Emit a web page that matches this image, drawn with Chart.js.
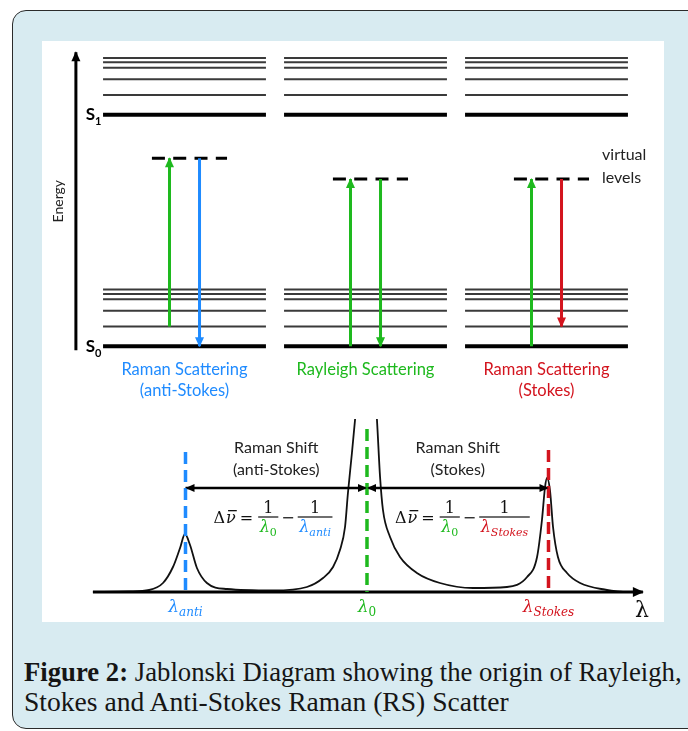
<!DOCTYPE html>
<html>
<head>
<meta charset="utf-8">
<script src="https://cdn.jsdelivr.net/npm/chart.js@4.4.1/dist/chart.umd.min.js"></script>
<style>
  html, body { margin: 0; padding: 0; background: #fff; }
  body { width: 688px; height: 731px; position: relative; overflow: hidden; }
  #frame { position: absolute; left: 12px; top: 10px; width: 730px; height: 719px; background: #d8ebf1;
           border: 1.5px solid #2b2b2b; border-radius: 14px; box-sizing: border-box; }
  #panel { position: absolute; left: 42px; top: 41px; width: 622px; height: 581px; background: #fff; }
  #levels { position: absolute; left: 42px; top: 41px; }
  #spectrum { position: absolute; left: 42px; top: 419px; }
  .cap { position: absolute; left: 24px; font-family: "Liberation Serif", serif; font-size: 27px;
         line-height: 27px; color: #151515; white-space: nowrap; transform-origin: 0 0; }
  #cap1 { top: 659px; }
  #cap2 { top: 689px; }
</style>
</head>
<body>
<div id="frame"></div>
<div id="panel"></div>
<canvas id="levels" width="622" height="378"></canvas>
<canvas id="spectrum" width="622" height="203"></canvas>
<div class="cap" id="cap1"><b>Figure 2:</b> Jablonski Diagram showing the origin of Rayleigh,</div>
<div class="cap" id="cap2">Stokes and Anti-Stokes Raman (RS) Scatter</div>
<script>
// Jablonski part: columns and energies (S0 = 0, S1 = 10)
const columns = [0, 1, 2];
const columnTitles = [["Raman Scattering", "(anti-Stokes)"], ["Rayleigh Scattering"], ["Raman Scattering", "(Stokes)"]];
const stateNames = ["S", "S"];
const stateSubs = ["0", "1"];
const stateEnergies = [0, 10];
const vibLevels = [0, 0.85, 1.53, 2.03, 2.26, 2.45];
const virtualLevels = [8.12, 7.22, 7.22];
const excitationFrom = [0.85, 0, 0];
const emissionTo = [0, 0, 0.85];
const energyAxis = [-0.17, 12.7];

// spectrum part: wavelength in units of the Raman shift, lambda0 = 0
const markPos = [-1, 0, 1];
const markTops = [1.40, 1.63, 1.42];
const markSubs = ["anti", "0", "Stokes"];
const shiftLevel = 1.04;
const shiftTitles = [["Raman Shift", "(anti-Stokes)"], ["Raman Shift", "(Stokes)"]];
const axisRange = [-1.51, 1.52];
const specX = [-1.51, -1.31, -1.20, -1.124, -1.069, -1.030, -1.003, -0.975, -0.937, -0.882, -0.771, -0.518, -0.331, -0.242, -0.187, -0.149, -0.121, -0.105, -0.083, -0.066, 0.0, 0.055, 0.072, 0.088, 0.127, 0.182, 0.275, 0.402, 0.584, 0.771, 0.882, 0.937, 0.964, 0.981, 0.992, 1.008, 1.025, 1.052, 1.102, 1.174, 1.322, 1.41];
const specY = [0, 0.005, 0.02, 0.09, 0.25, 0.44, 0.58, 0.47, 0.24, 0.09, 0.03, 0.015, 0.05, 0.14, 0.25, 0.42, 0.65, 0.99, 1.39, 1.72, 3.2, 1.72, 1.15, 0.82, 0.55, 0.35, 0.19, 0.09, 0.04, 0.05, 0.15, 0.35, 0.72, 1.05, 1.14, 1.02, 0.65, 0.35, 0.19, 0.09, 0.02, 0];

const BLUE = "#1f8bff", GREEN = "#1eb91e", RED = "#d3141e";
const colColors = [BLUE, GREEN, RED];
const SANS = "Lato, 'Open Sans', sans-serif";
const SERIF = "'DejaVu Serif', serif";

// arrow heads at line ends
const arrowHeads = {
    id: "arrowHeads",
    afterDatasetsDraw(chart) {
        const ctx = chart.ctx;
        chart.data.datasets.forEach((ds, i) => {
            if (!ds.arrow) return;
            const pts = chart.getDatasetMeta(i).data;
            const ends = [];
            if (ds.arrow.end) ends.push([pts[pts.length - 2], pts[pts.length - 1]]);
            if (ds.arrow.start) ends.push([pts[1], pts[0]]);
            ends.forEach(([a, b]) => {
                const ang = Math.atan2(b.y - a.y, b.x - a.x);
                const L = ds.arrow.len, W = ds.arrow.wid, t = ds.arrow.tip || 0;
                ctx.save();
                ctx.translate(b.x, b.y);
                ctx.rotate(ang);
                ctx.fillStyle = ds.borderColor;
                ctx.beginPath();
                ctx.moveTo(t, 0);
                ctx.lineTo(t - L, -W / 2);
                ctx.lineTo(t - L, W / 2);
                ctx.closePath();
                ctx.fill();
                ctx.restore();
            });
        });
    }
};

function seg(x1, y1, x2, y2, color, width, extra) {
    return Object.assign({
        data: [{ x: x1, y: y1 }, { x: x2, y: y2 }],
        borderColor: color, borderWidth: width, pointRadius: 0, fill: false
    }, extra || {});
}

// ---------- top chart ----------
const half = 0.45;
const levelSets = [];
const arrowSets = [];
columns.forEach(c => {
    stateEnergies.forEach(base => {
        vibLevels.forEach((v, k) => {
            levelSets.push(seg(c - half, base + v, c + half, base + v, k === 0 ? "#000" : "#3a3a3a", k === 0 ? 4 : 2));
        });
    });
    levelSets.push(seg(c - 0.18, virtualLevels[c], c + 0.235, virtualLevels[c], "#000", 3, { borderDash: [13, 8.3] }));
    arrowSets.push(seg(c - 0.083, excitationFrom[c], c - 0.083, virtualLevels[c], GREEN, 3, { arrow: { end: true, len: 10, wid: 9, tip: 1 } }));
    arrowSets.push(seg(c + 0.083, virtualLevels[c], c + 0.083, emissionTo[c], colColors[c], 3, { arrow: { end: true, len: 10, wid: 9, tip: 1 } }));
});
arrowSets.push(seg(-0.6, energyAxis[0], -0.6, energyAxis[1], "#000", 3, { arrow: { end: true, len: 10, wid: 9, tip: 1 } }));

const levelText = {
    id: "levelText",
    afterDraw(chart) {
        const { ctx, scales: { x, y } } = chart;
        ctx.save();
        // column titles
        ctx.textAlign = "center";
        ctx.textBaseline = "middle";
        ctx.font = "16.5px " + SANS;
        columns.forEach(c => {
            ctx.fillStyle = colColors[c];
            columnTitles[c].forEach((t, k) => {
                ctx.fillText(t, x.getPixelForValue(c), y.getPixelForValue(stateEnergies[0]) + 23 + k * 21);
            });
        });
        // state labels
        const sx = x.getPixelForValue(-half) - 8;
        ctx.fillStyle = "#000";
        stateEnergies.forEach((e, k) => {
            const py = y.getPixelForValue(e);
            ctx.font = "bold 17px " + SANS;
            ctx.textAlign = "right";
            ctx.fillText(stateNames[k], sx, py);
            ctx.font = "bold 11px " + SANS;
            ctx.textAlign = "left";
            ctx.fillText(stateSubs[k], sx, py + 7);
        });
        // virtual levels note
        ctx.font = "16px " + SANS;
        ctx.fillStyle = "#222";
        ctx.textAlign = "left";
        const vx = x.getPixelForValue(2.235) + 13;
        const vy = y.getPixelForValue(virtualLevels[2]);
        ctx.fillText("virtual", vx, vy - 24);
        ctx.fillText("levels", vx, vy - 1);
        // Energy
        ctx.translate(x.getPixelForValue(-0.6) - 17, (y.getPixelForValue(energyAxis[0]) + y.getPixelForValue(energyAxis[1])) / 2);
        ctx.rotate(-Math.PI / 2);
        ctx.textAlign = "center";
        ctx.font = "14px " + SANS;
        ctx.fillText("Energy", 0, 0);
        ctx.restore();
    }
};

new Chart(document.getElementById("levels"), {
    type: "line",
    data: { datasets: [...arrowSets, ...levelSets] },
    options: {
        responsive: false, animation: false, events: [], devicePixelRatio: 1,
        layout: { padding: 0 },
        plugins: { legend: { display: false }, tooltip: { enabled: false } },
        scales: {
            x: { type: "linear", display: false, min: -0.7873, max: 2.6492 },
            y: { type: "linear", display: false, min: -3.139, max: 13.182 }
        }
    },
    plugins: [arrowHeads, levelText]
});

// ---------- bottom chart ----------
const MATH = 16;

function lambdaFonts(sub, size) {
    return ["italic " + size + "px " + SERIF, (sub === "0" ? "" : "italic ") + Math.round(size * 0.68) + "px " + SERIF];
}

function measureLambda(ctx, sub, size) {
    const [big, small] = lambdaFonts(sub, size);
    ctx.font = big;
    const w1 = ctx.measureText("λ").width;
    ctx.font = small;
    return w1 + ctx.measureText(sub).width;
}

function drawLambda(ctx, cx, base, sub, color, size) {
    const [big, small] = lambdaFonts(sub, size);
    const w = measureLambda(ctx, sub, size);
    const x0 = cx - w / 2;
    ctx.fillStyle = color;
    ctx.textAlign = "left";
    ctx.font = big;
    const w1 = ctx.measureText("λ").width;
    ctx.fillText("λ", x0, base);
    ctx.font = small;
    ctx.fillText(sub, x0 + w1, base + size * 0.25);
}

function drawFrac(ctx, x0, bar, sub, color) {
    const w = measureLambda(ctx, sub, MATH) + 3;
    ctx.fillStyle = "#111";
    ctx.fillRect(x0, bar - 0.6, w, 1.2);
    ctx.font = MATH + "px " + SERIF;
    ctx.textAlign = "center";
    ctx.fillText("1", x0 + w / 2, bar - 4);
    drawLambda(ctx, x0 + w / 2, bar + 15, sub, color, MATH);
    return w;
}

function drawFormula(ctx, x0, bar, sub, color) {
    let cx = x0;
    ctx.fillStyle = "#111";
    ctx.textAlign = "left";
    ctx.font = MATH + "px " + SERIF;
    ctx.fillText("Δ", cx, bar + 6);
    cx += ctx.measureText("Δ").width + 1;
    ctx.font = "italic " + MATH + "px " + SERIF;
    const nw = ctx.measureText("ν").width;
    ctx.fillText("ν", cx, bar + 6);
    ctx.fillRect(cx + 2, bar - 7, nw - 1, 1.3);
    cx += nw + 4;
    ctx.font = MATH + "px " + SERIF;
    ctx.fillText("=", cx, bar + 6);
    cx += ctx.measureText("=").width + 5;
    cx += drawFrac(ctx, cx, bar, "0", GREEN) + 3;
    ctx.fillStyle = "#111";
    ctx.textAlign = "left";
    ctx.font = MATH + "px " + SERIF;
    ctx.fillText("−", cx, bar + 6);
    cx += ctx.measureText("−").width + 3;
    drawFrac(ctx, cx, bar, sub, color);
}

const specText = {
    id: "specText",
    afterDraw(chart) {
        const { ctx, scales: { x, y } } = chart;
        ctx.save();
        const base = y.getPixelForValue(0);
        const ay = y.getPixelForValue(shiftLevel);
        // shift titles
        ctx.font = "16px " + SANS;
        ctx.fillStyle = "#222";
        ctx.textAlign = "center";
        ctx.textBaseline = "middle";
        shiftTitles.forEach((lines, k) => {
            const mx = x.getPixelForValue((markPos[k] + markPos[k + 1]) / 2);
            lines.forEach((t, j) => ctx.fillText(t, mx, ay - 40 + j * 22));
        });
        // formulas
        ctx.textBaseline = "alphabetic";
        drawFormula(ctx, x.getPixelForValue(markPos[0]) + 28, ay + 29, markSubs[0], colColors[0]);
        drawFormula(ctx, x.getPixelForValue(markPos[1]) + 28, ay + 29, markSubs[2], colColors[2]);
        // mark labels
        markPos.forEach((m, k) => {
            drawLambda(ctx, x.getPixelForValue(m), base + 20, markSubs[k], colColors[k], 17);
        });
        // axis label
        ctx.fillStyle = "#111";
        ctx.font = "22px " + SERIF;
        ctx.textAlign = "center";
        ctx.fillText("λ", x.getPixelForValue(axisRange[1]) - 1, base + 25);
        ctx.restore();
    }
};

const specSets = [];
markPos.forEach((m, k) => {
    specSets.push(seg(m, markTops[k], m, 0, colColors[k], 3.5, { borderDash: [12, 6] }));
});
specSets.push(seg(markPos[0], shiftLevel, markPos[1], shiftLevel, "#000", 2.5, { arrow: { start: true, end: true, len: 9, wid: 8, tip: 0 } }));
specSets.push(seg(markPos[1], shiftLevel, markPos[2], shiftLevel, "#000", 2.5, { arrow: { start: true, end: true, len: 9, wid: 8, tip: 0 } }));
specSets.push(seg(axisRange[0], 0, axisRange[1], 0, "#000", 3, { arrow: { end: true, len: 11, wid: 10, tip: 1 } }));
specSets.push({
    data: specX.map((v, i) => ({ x: v, y: specY[i] })),
    borderColor: "#111", borderWidth: 1.8, pointRadius: 0, fill: false,
    cubicInterpolationMode: "monotone"
});

new Chart(document.getElementById("spectrum"), {
    type: "line",
    data: { datasets: specSets },
    options: {
        responsive: false, animation: false, events: [], devicePixelRatio: 1,
        layout: { padding: 0 },
        plugins: { legend: { display: false }, tooltip: { enabled: false } },
        scales: {
            x: { type: "linear", display: false, min: -1.7906, max: 1.6364 },
            y: { type: "linear", display: false, min: -0.30, max: 1.73 }
        }
    },
    plugins: [arrowHeads, specText]
});

// fit the caption lines to the width of the original lines
const cap1 = document.getElementById("cap1");
const cap2 = document.getElementById("cap2");
cap1.style.transform = "scaleX(" + (658 / cap1.offsetWidth) + ")";
cap2.style.transform = "scaleX(" + (485 / cap2.offsetWidth) + ")";
</script>
</body>
</html>
